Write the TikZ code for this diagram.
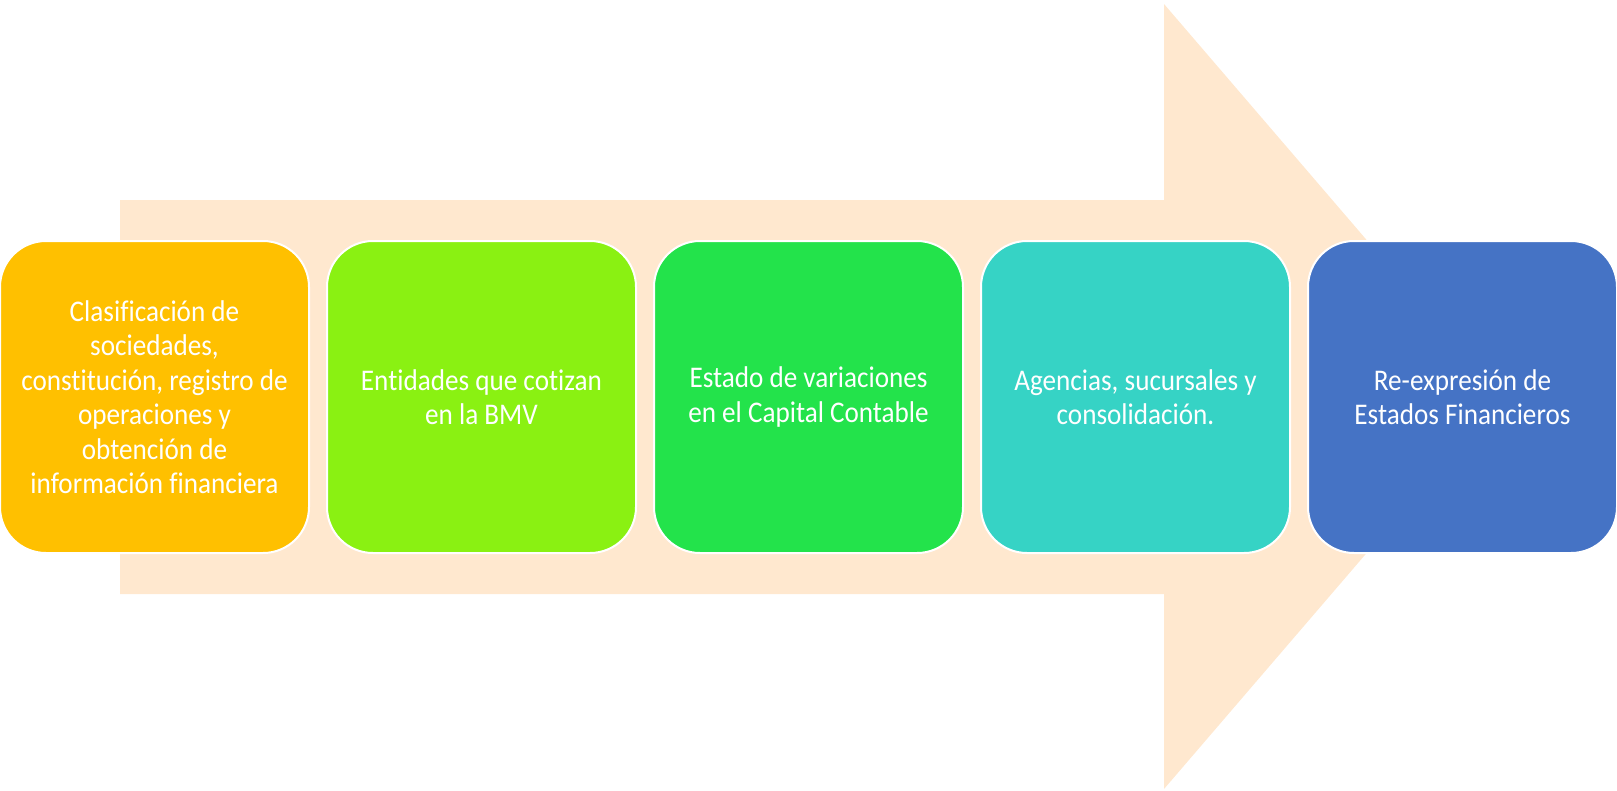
\documentclass[tikz,border=0pt]{standalone}
\usepackage{fontspec}
\newfontfamily\boxfont[FakeStretch=0.905,Ligatures=NoCommon]{Carlito}
\definecolor{peach}{HTML}{FFE8CF}
\definecolor{stepA}{HTML}{FFC000}
\definecolor{stepB}{HTML}{8AF112}
\definecolor{stepC}{HTML}{23E34B}
\definecolor{stepD}{HTML}{36D3C5}
\definecolor{stepE}{HTML}{4573C5}
\tikzset{
  stepbox/.style={rounded corners=46pt, draw=white, line width=2pt,
    minimum width=309pt, minimum height=312pt, inner sep=0pt,
    text=white, align=center,
    font=\boxfont\fontsize{30}{34.5}\selectfont}
}
\begin{document}
\begin{tikzpicture}[x=1pt,y=-1pt]
          \useasboundingbox (0,0) rectangle (1617,790);

          % big arrow behind the steps
          \fill[peach] (120,200) -- (1164,200) -- (1164,4) -- (1501,396.5)
            -- (1164,789) -- (1164,594) -- (120,594) -- cycle;

          \foreach \i/\col/\txt in {
              0/stepA/{Clasificación de\\sociedades,\\constitución, registro de\\operaciones y\\obtención de\\información financiera},
              1/stepB/{Entidades que cotizan\\en la BMV},
              2/stepC/{Estado de variaciones\\en el Capital Contable},
              3/stepD/{Agencias, sucursales y\\consolidación.},
              4/stepE/{Re-expresión de\\Estados Financieros}}{
            \node[stepbox, fill=\col] (s\i) at ({154.5+327*\i},397) {\txt};
          }
        \end{tikzpicture}
\end{document}
